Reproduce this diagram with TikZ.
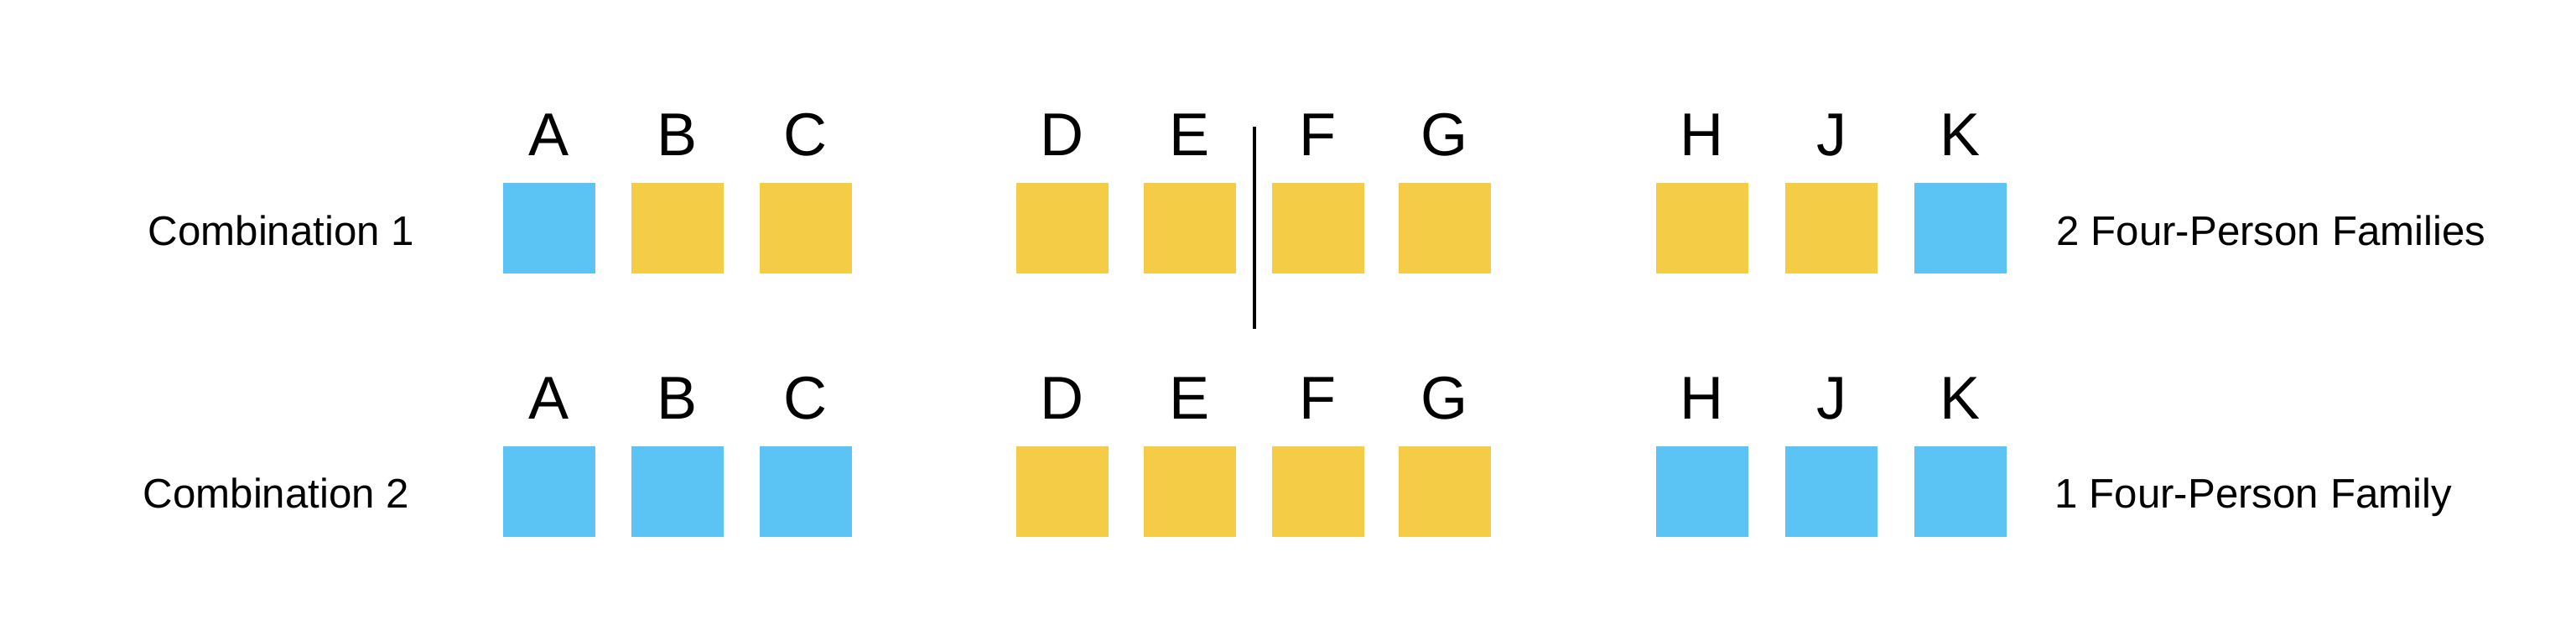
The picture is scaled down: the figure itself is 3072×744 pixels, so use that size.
\documentclass[tikz,border=0pt]{standalone}
\usepackage{fontspec}
\setmainfont{Liberation Sans}
\usepackage{tikz}
\usepackage{xcolor}
\definecolor{seatblue}{RGB}{91,196,245}
\definecolor{seatyellow}{RGB}{245,204,70}

\begin{document}
\begin{tikzpicture}[x=0.01cm,y=-0.01cm,
  seat/.style={minimum width=1.09cm,minimum height=1.08cm,inner sep=0pt,draw=none},
  blueseat/.style={seat,fill=seatblue},
  yellowseat/.style={seat,fill=seatyellow},
  letter/.style={anchor=base,inner sep=0pt,font=\fontsize{20.5}{24}\selectfont},
  rowlabel/.style={anchor=base west,inner sep=0pt,font=\fontsize{14}{17}\selectfont}]
\useasboundingbox (0,0) rectangle (3072,744);
% combination 1
\node[rowlabel] (comb1) at (176,292) {Combination 1};
\node[letter] (la1) at (655,185) {A};
\node[letter] (lb1) at (808,185) {B};
\node[letter] (lc1) at (961,185) {C};
\node[letter] (ld1) at (1267,185) {D};
\node[letter] (le1) at (1419,185) {E};
\node[letter] (lf1) at (1572,185) {F};
\node[letter] (lg1) at (1723,185) {G};
\node[letter] (lh1) at (2030,185) {H};
\node[letter] (lj1) at (2184,185) {J};
\node[letter] (lk1) at (2338,185) {K};
\node[blueseat] (a1) at (655,272) {};
\node[yellowseat] (b1) at (808,272) {};
\node[yellowseat] (c1) at (961,272) {};
\node[yellowseat] (d1) at (1267,272) {};
\node[yellowseat] (e1) at (1419,272) {};
\node[yellowseat] (f1) at (1572,272) {};
\node[yellowseat] (g1) at (1723,272) {};
\node[yellowseat] (h1) at (2030,272) {};
\node[yellowseat] (j1) at (2184,272) {};
\node[blueseat] (k1) at (2338,272) {};
\node[rowlabel] (fam1) at (2452,292) {2 Four-Person Families};
\coordinate (cuttop) at (1496,151);
\coordinate (cutbot) at (1496,392);
\draw[line width=0.9pt] (cuttop) -- (cutbot);
% combination 2
\node[rowlabel] (comb2) at (170,605) {Combination 2};
\node[letter] (la2) at (655,499) {A};
\node[letter] (lb2) at (808,499) {B};
\node[letter] (lc2) at (961,499) {C};
\node[letter] (ld2) at (1267,499) {D};
\node[letter] (le2) at (1419,499) {E};
\node[letter] (lf2) at (1572,499) {F};
\node[letter] (lg2) at (1723,499) {G};
\node[letter] (lh2) at (2030,499) {H};
\node[letter] (lj2) at (2184,499) {J};
\node[letter] (lk2) at (2338,499) {K};
\node[blueseat] (a2) at (655,586) {};
\node[blueseat] (b2) at (808,586) {};
\node[blueseat] (c2) at (961,586) {};
\node[yellowseat] (d2) at (1267,586) {};
\node[yellowseat] (e2) at (1419,586) {};
\node[yellowseat] (f2) at (1572,586) {};
\node[yellowseat] (g2) at (1723,586) {};
\node[blueseat] (h2) at (2030,586) {};
\node[blueseat] (j2) at (2184,586) {};
\node[blueseat] (k2) at (2338,586) {};
\node[rowlabel] (fam2) at (2450,605) {1 Four-Person Family};
\end{tikzpicture}
\end{document}
